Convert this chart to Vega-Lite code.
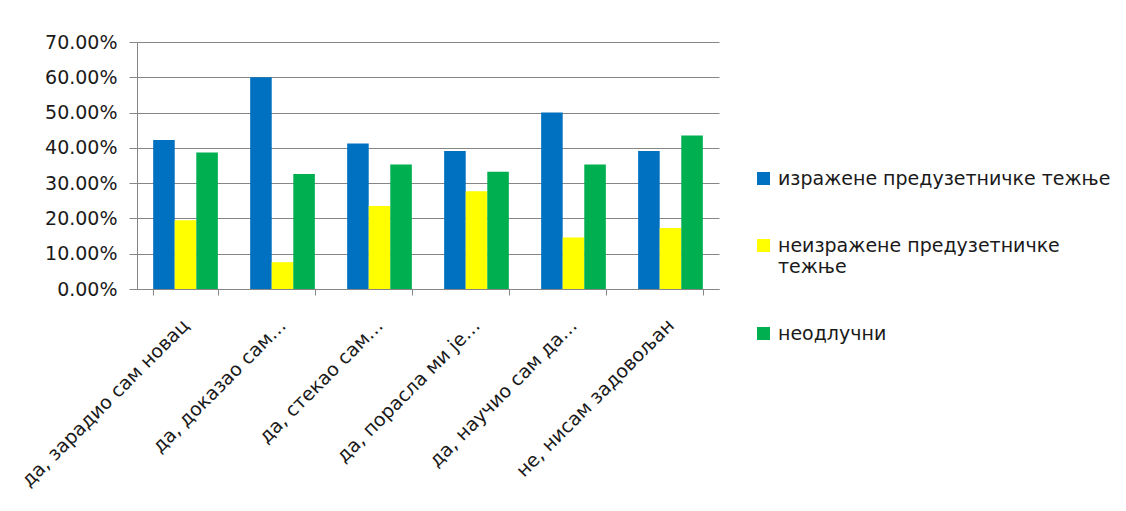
{
  "$schema": "https://vega.github.io/schema/vega-lite/v6.json",
  "width": 582,
  "height": 247,
  "autosize": {"type": "none"},
  "padding": {"left": 137, "top": 42, "right": 407, "bottom": 222},
  "background": "white",
  "data": {
    "values": [
      {"category": "да, зарадио сам новац", "series": "изражене предузетничке тежње", "value": 0.422},
      {"category": "да, зарадио сам новац", "series": "неизражене предузетничке тежње", "value": 0.195},
      {"category": "да, зарадио сам новац", "series": "неодлучни", "value": 0.387},
      {"category": "да, доказао сам…", "series": "изражене предузетничке тежње", "value": 0.60},
      {"category": "да, доказао сам…", "series": "неизражене предузетничке тежње", "value": 0.076},
      {"category": "да, доказао сам…", "series": "неодлучни", "value": 0.326},
      {"category": "да, стекао сам…", "series": "изражене предузетничке тежње", "value": 0.412},
      {"category": "да, стекао сам…", "series": "неизражене предузетничке тежње", "value": 0.235},
      {"category": "да, стекао сам…", "series": "неодлучни", "value": 0.353},
      {"category": "да, порасла ми је…", "series": "изражене предузетничке тежње", "value": 0.391},
      {"category": "да, порасла ми је…", "series": "неизражене предузетничке тежње", "value": 0.277},
      {"category": "да, порасла ми је…", "series": "неодлучни", "value": 0.332},
      {"category": "да, научио сам да…", "series": "изражене предузетничке тежње", "value": 0.50},
      {"category": "да, научио сам да…", "series": "неизражене предузетничке тежње", "value": 0.146},
      {"category": "да, научио сам да…", "series": "неодлучни", "value": 0.353},
      {"category": "не, нисам задовољан", "series": "изражене предузетничке тежње", "value": 0.391},
      {"category": "не, нисам задовољан", "series": "неизражене предузетничке тежње", "value": 0.173},
      {"category": "не, нисам задовољан", "series": "неодлучни", "value": 0.435}
    ]
  },
  "mark": {"type": "bar"},
  "encoding": {
    "x": {
      "field": "category",
      "type": "nominal",
      "sort": null,
      "title": null,
      "scale": {"paddingInner": 0.333, "paddingOuter": 0.1667},
      "axis": {
        "tickBand": "extent",
        "grid": false,
        "domainColor": "#868686",
        "tickColor": "#868686",
        "tickSize": 6,
        "labelAngle": -45,
        "labelAlign": "right",
        "labelBaseline": "middle",
        "labelPadding": 27,
        "labelOffset": 0,
        "labelFontSize": 19,
        "labelColor": "#1a1a1a",
        "labelLimit": 400
      }
    },
    "xOffset": {
      "field": "series",
      "type": "nominal",
      "sort": ["изражене предузетничке тежње", "неизражене предузетничке тежње", "неодлучни"],
      "scale": {"paddingInner": 0, "paddingOuter": 0}
    },
    "y": {
      "field": "value",
      "type": "quantitative",
      "title": null,
      "scale": {"domain": [0, 0.7], "nice": false},
      "axis": {
        "values": [0, 0.1, 0.2, 0.3, 0.4, 0.5, 0.6, 0.7],
        "format": ".2%",
        "grid": true,
        "gridColor": "#868686",
        "domainColor": "#868686",
        "tickColor": "#868686",
        "tickSize": 8,
        "labelPadding": 12,
        "labelFontSize": 19,
        "labelColor": "#1a1a1a"
      }
    },
    "color": {
      "field": "series",
      "type": "nominal",
      "sort": ["изражене предузетничке тежње", "неизражене предузетничке тежње", "неодлучни"],
      "scale": {
        "domain": ["изражене предузетничке тежње", "неизражене предузетничке тежње", "неодлучни"],
        "range": ["#0070C0", "#FFFF00", "#00B050"]
      },
      "legend": {
        "title": null,
        "orient": "none",
        "legendX": 617,
        "legendY": 127,
        "padding": 0,
        "symbolType": "square",
        "symbolSize": 169,
        "symbolStrokeWidth": 0,
        "labelFontSize": 19,
        "labelColor": "#1a1a1a",
        "labelOffset": 5,
        "labelLimit": 500,
        "rowPadding": 47,
        "labelExpr": "datum.label == 'неизражене предузетничке тежње' ? ['неизражене предузетничке', 'тежње'] : datum.label"
      }
    }
  },
  "config": {
    "font": "DejaVu Sans",
    "view": {"stroke": null},
    "axis": {"domainWidth": 1, "tickWidth": 1, "gridWidth": 1}
  }
}
